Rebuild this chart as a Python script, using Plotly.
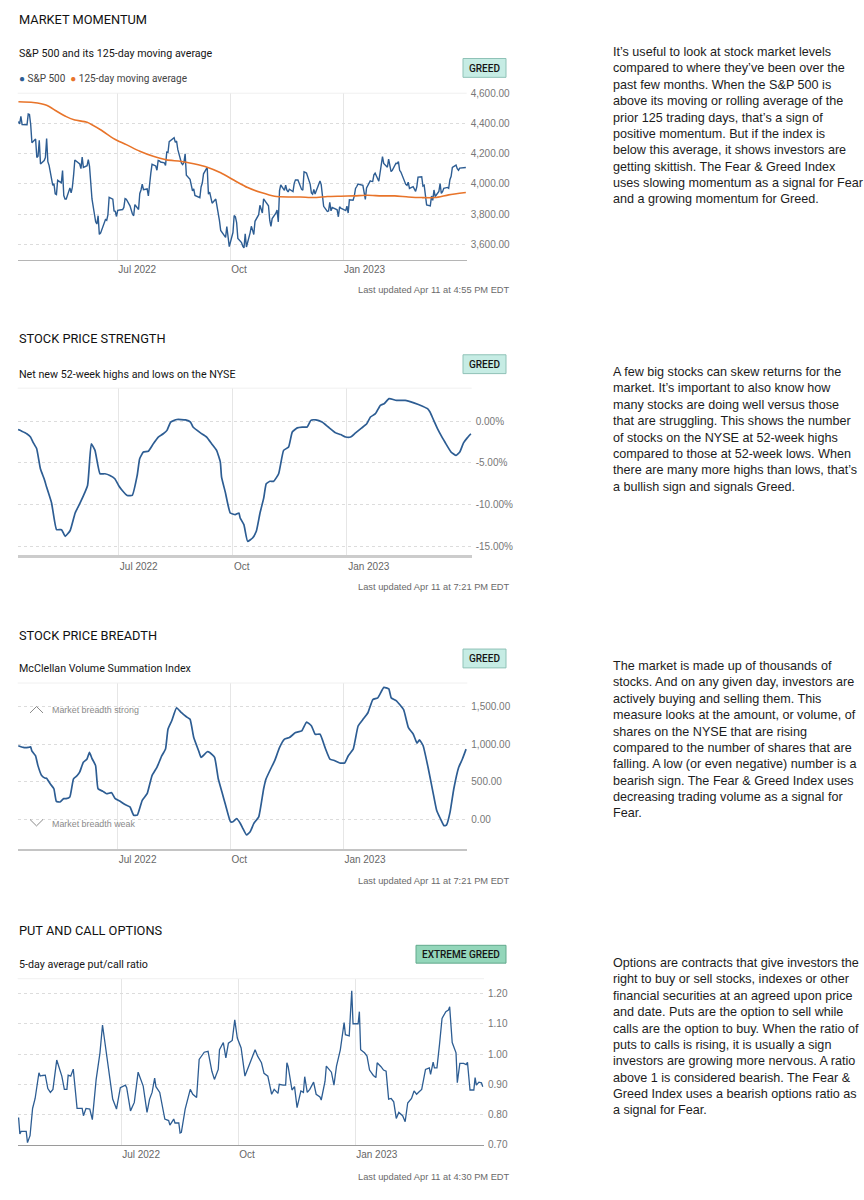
import pandas as pd
import plotly.graph_objects as go

W, H = 864, 1200
BASE = pd.Timestamp("2022-07-01")

# ---------------- DATA ----------------
market_holidays = ["2022-04-15", "2022-05-30", "2022-06-20", "2022-07-04", "2022-09-05",
                   "2022-11-24", "2022-12-26", "2023-01-02", "2023-01-16", "2023-02-20",
                   "2023-04-07"]

sp500_close = [
    # Apr 2022
    4413, 4397, 4447, 4392, 4391, 4462, 4459, 4393, 4272, 4297, 4175, 4183, 4288, 4132,
    # May
    4155, 4175, 4300, 4147, 4123, 3991, 4001, 3935, 3930, 4024, 4008, 4088, 3923, 3901, 3901,
    3974, 3941, 3979, 4058, 4158, 4132,
    # Jun
    4101, 4177, 4109, 4121, 4161, 4116, 4018, 3901, 3750, 3735, 3790, 3667, 3675, 3765, 3760,
    3796, 3912, 3900, 3822, 3819, 3785,
    # Jul
    3825, 3831, 3845, 3903, 3899, 3855, 3819, 3801, 3790, 3863, 3831, 3937, 3960, 3999, 3962,
    3967, 3921, 4024, 4072, 4130,
    # Aug
    4119, 4091, 4155, 4152, 4145, 4140, 4122, 4210, 4208, 4280, 4297, 4305, 4275, 4284, 4228,
    4138, 4128, 4141, 4199, 4058, 4031, 3986, 3955,
    # Sep
    3967, 3924, 3909, 3980, 4006, 4067, 4110, 3933, 3946, 3901, 3873, 3900, 3856, 3790, 3758,
    3693, 3655, 3647, 3719, 3640, 3586,
    # Oct
    3679, 3791, 3783, 3745, 3640, 3612, 3589, 3577, 3670, 3583, 3677, 3720, 3695, 3666, 3753,
    3797, 3859, 3831, 3808, 3901, 3872,
    # Nov
    3856, 3760, 3720, 3771, 3807, 3828, 3749, 3956, 3993, 3957, 3992, 3959, 3947, 3965, 3950,
    4004, 4027, 4026, 3964, 3958, 4080,
    # Dec
    4076, 4072, 3999, 3941, 3933, 3963, 3934, 3991, 4019, 3996, 3896, 3852, 3818, 3821, 3879,
    3822, 3845, 3829, 3783, 3849, 3840,
    # Jan 2023
    3824, 3853, 3808, 3895, 3893, 3919, 3970, 3983, 3999, 3991, 3928, 3898, 3973, 4020, 4017,
    4016, 4060, 4071, 4018, 4077,
    # Feb
    4119, 4180, 4136, 4111, 4164, 4118, 4082, 4090, 4137, 4136, 4148, 4090, 4079, 3997, 3991,
    4012, 3970, 3982, 3970,
    # Mar
    3951, 3981, 4045, 4048, 3986, 3992, 3918, 3862, 3855, 3920, 3892, 3960, 3917, 3951, 4003,
    3937, 3949, 3971, 3977, 3971, 4028, 4051, 4109,
    # Apr
    4125, 4101, 4091, 4105, 4110, 4109,
]

# 125-day moving average (days relative to 2022-07-01)
ma_days = [-81, -69, -58, -50, -42, -35, -25, -14, -4, 0, 7, 18, 29, 40, 51, 62, 73, 84, 95, 106,
           117, 128, 139, 149, 160, 171, 182, 193, 204, 215, 226, 237, 248, 259, 270, 284]
ma_values = [4543, 4539, 4521, 4482, 4445, 4423, 4408, 4358, 4303, 4286, 4260, 4216, 4183, 4159,
             4150, 4133, 4111, 4074, 4024, 3976, 3943, 3919, 3914, 3914, 3910, 3917, 3919, 3921,
             3925, 3921, 3921, 3914, 3910, 3910, 3928, 3943]

# Net new 52-week highs and lows (%)
strength_days = [-81, -78, -74, -71, -69, -66, -63, -60, -58, -54, -50, -46, -43, -39, -35, -31,
                 -25, -22, -19, -15, -11, -7, -3, 0, 3, 7, 11, 15, 17, 20, 24, 28, 32, 36, 39, 42,
                 47, 54, 58, 60, 66, 71, 75, 79, 82, 83, 86, 90, 94, 97, 98, 101, 104, 108, 111,
                 114, 117, 119, 122, 125, 129, 133, 137, 140, 144, 148, 152, 155, 159, 164, 169,
                 175, 179, 183, 187, 191, 196, 200, 203, 207, 211, 214, 218, 224, 231, 238, 245,
                 249, 251, 254, 257, 261, 263, 268, 272, 275, 278, 281, 284]
strength_values = [-1.0, -1.2, -1.5, -1.9, -2.5, -3.3, -5.7, -6.9, -7.9, -9.8, -13.0, -13.0, -13.8,
                   -13.1, -11.0, -9.8, -7.7, -2.7, -3.5, -6.3, -6.3, -6.5, -6.9, -7.7, -8.3, -8.9,
                   -8.9, -6.5, -4.5, -3.7, -3.6, -2.7, -1.9, -1.5, -1.1, -0.1, 0.2, 0.16, -0.1,
                   -0.7, -1.4, -1.9, -2.7, -3.5, -4.9, -6.7, -8.5, -11.0, -11.2, -11.0, -11.6,
                   -12.4, -14.4, -14.0, -13.2, -11.0, -9.2, -7.5, -7.2, -7.2, -6.3, -3.5, -3.1,
                   -1.3, -0.8, -0.7, -0.7, 0.1, 0.16, -0.1, -0.7, -1.4, -1.6, -1.9, -1.9, -1.4,
                   -0.8, -0.3, 0.5, 0.9, 1.9, 2.1, 2.7, 2.5, 2.5, 2.2, 1.8, 1.5, 1.1, 0.1, -0.9,
                   -2.0, -2.5, -3.7, -4.1, -3.7, -2.6, -2.0, -1.5]

# McClellan Volume Summation Index
breadth_days = [-81, -77, -73, -71, -70, -67, -65, -62, -59, -58, -55, -52, -50, -47, -44, -42,
                -39, -36, -33, -31, -28, -25, -23, -21, -18, -16, -12, -9, -5, -2, 2, 6, 10, 13,
                16, 20, 24, 28, 32, 36, 39, 41, 44, 48, 52, 56, 59, 62, 66, 68, 73, 75, 79, 82,
                85, 88, 92, 94, 97, 100, 102, 105, 108, 111, 115, 119, 121, 126, 128, 132, 136,
                140, 145, 150, 154, 158, 161, 165, 169, 173, 177, 181, 185, 188, 192, 196, 200,
                204, 208, 212, 217, 221, 223, 227, 233, 237, 241, 244, 246, 249, 253, 257, 260,
                263, 266, 268, 271, 274, 278, 281, 284]
breadth_values = [977, 955, 955, 963, 911, 846, 715, 584, 549, 549, 475, 410, 244, 235, 279, 279,
                  301, 541, 584, 628, 759, 802, 889, 811, 715, 410, 375, 344, 358, 279, 244, 201,
                  170, 61, 61, 257, 344, 584, 693, 846, 933, 1195, 1304, 1478, 1413, 1360, 1326,
                  1086, 911, 824, 898, 889, 824, 541, 366, 192, -26, -26, 17, -48, -113, -200,
                  -157, -48, 39, 410, 541, 715, 780, 955, 1064, 1086, 1151, 1173, 1291, 1238,
                  1129, 1129, 955, 802, 780, 750, 750, 846, 933, 1238, 1326, 1413, 1587, 1609,
                  1748, 1727, 1609, 1574, 1456, 1216, 1129, 1011, 1055, 977, 693, 366, 126, 17,
                  -78, -70, 105, 410, 693, 802, 933]

# 5-day average put/call ratio
putcall_days = [-81, -80, -79, -75, -74, -72, -70, -68, -65, -64,
                -62, -60, -58, -56, -54, -51, -47, -45, -43, -42,
                -40, -38, -35, -31, -30, -28, -25, -23, -20, -17,
                -15, -12, -9, -7, -4, -3, -1, 3, 4, 7,
                10, 13, 14, 17, 20, 22, 24, 26, 27, 30,
                34, 37, 38, 41, 42, 45, 46, 47, 50, 54,
                56, 59, 61, 65, 68, 71, 73, 75, 76, 77,
                80, 82, 84, 87, 89, 91, 94, 97, 99, 102,
                105, 107, 110, 112, 115, 118, 120, 123, 124, 127,
                129, 130, 131, 134, 136, 138, 141, 143, 144, 146,
                148, 151, 153, 156, 157, 160, 161, 165, 167, 169,
                172, 175, 176, 179, 181, 182, 186, 187, 188, 191,
                193, 195, 198, 200, 201, 204, 206, 208, 210, 212,
                214, 216, 218, 221, 223, 225, 228, 230, 232, 234,
                236, 239, 242, 243, 245, 246, 248, 250, 252, 255,
                257, 258, 260, 263, 264, 266, 269, 271, 272, 274,
                276, 277, 278, 279, 281, 283, 284]
putcall_values = [0.79, 0.736, 0.744, 0.744, 0.707, 0.73, 0.82, 0.853, 0.938, 0.927,
                  0.929, 0.93, 0.886, 0.873, 0.883, 0.98, 0.927, 0.883, 0.883, 0.93,
                  0.927, 0.95, 0.82, 0.82, 0.796, 0.82, 0.818, 0.783, 0.916, 1.004,
                  1.096, 1.004, 0.93, 0.851, 0.818, 0.845, 0.889, 0.897, 0.889, 0.812,
                  0.84, 0.94, 0.927, 0.894, 0.807, 0.851, 0.873, 0.92, 0.892, 0.873,
                  0.785, 0.78, 0.765, 0.785, 0.772, 0.772, 0.739, 0.741, 0.818, 0.883,
                  0.867, 0.856, 0.982, 1.006, 1.009, 0.943, 0.916, 0.938, 0.949, 1.014,
                  1.038, 0.987, 1.036, 1.045, 1.113, 1.053, 1.02, 0.927, 0.949, 0.982,
                  1.014, 0.993, 0.971, 0.936, 0.927, 0.867, 0.883, 0.87, 0.9, 0.897,
                  0.897, 0.971, 0.958, 0.881, 0.892, 0.823, 0.878, 0.873, 0.925, 0.873,
                  0.883, 0.907, 0.867, 0.858, 0.848, 0.91, 0.96, 0.94, 0.897, 0.96,
                  1.014, 1.104, 1.064, 1.06, 1.209, 1.1, 1.1, 1.14, 1.014, 1.004,
                  0.993, 0.947, 0.929, 0.922, 0.971, 0.958, 0.947, 0.943, 0.851, 0.853,
                  0.842, 0.787, 0.807, 0.796, 0.776, 0.838, 0.853, 0.878, 0.867, 0.875,
                  0.883, 0.949, 0.954, 0.933, 0.973, 0.954, 0.954, 1.031, 1.118, 1.14,
                  1.145, 1.156, 1.038, 1.004, 0.905, 0.969, 0.969, 0.965, 0.973, 0.881,
                  0.881, 0.881, 0.922, 0.897, 0.907, 0.905, 0.892]

x_tick_dates = ["2022-07-01", "2022-10-01", "2023-01-01"]
x_tick_labels = ["Jul 2022", "Oct", "Jan 2023"]

sp_ticks = [3600, 3800, 4000, 4200, 4400, 4600]
strength_ticks = [-15, -10, -5, 0]
strength_tick_labels = ["-15.00%", "-10.00%", "-5.00%", "0.00%"]
breadth_ticks = [0, 500, 1000, 1500]
putcall_ticks = [0.7, 0.8, 0.9, 1.0, 1.1, 1.2]

# ---------------- HELPERS ----------------
def days_to_dates(days):
    return [BASE + pd.Timedelta(days=d) for d in days]

def PX(p):
    return p / W

def PY(p):
    return 1 - p / H

sp_dates = pd.bdate_range("2022-04-11", "2023-04-11", freq="C", holidays=market_holidays)
assert len(sp_dates) == len(sp500_close), (len(sp_dates), len(sp500_close))

BLUE = "#2d5d93"
ORANGE = "#e8742a"
HEAD_FONT = "Roboto, Liberation Sans, Arial, sans-serif"
BODY_FONT = "Liberation Sans, Arial, sans-serif"

fig = go.Figure()

fig.add_trace(go.Scatter(x=sp_dates, y=sp500_close, mode="lines", line=dict(color=BLUE, width=1.4),
                         name="S&P 500", xaxis="x", yaxis="y"))
fig.add_trace(go.Scatter(x=days_to_dates(ma_days), y=ma_values, mode="lines",
                         line=dict(color=ORANGE, width=1.6, shape="spline", smoothing=0.6),
                         name="125-day moving average", xaxis="x", yaxis="y"))
fig.add_trace(go.Scatter(x=days_to_dates(strength_days), y=strength_values, mode="lines",
                         line=dict(color=BLUE, width=1.7, shape="spline", smoothing=0.4),
                         name="Net new highs/lows", xaxis="x2", yaxis="y2"))
fig.add_trace(go.Scatter(x=days_to_dates(breadth_days), y=breadth_values, mode="lines",
                         line=dict(color=BLUE, width=1.7, shape="spline", smoothing=0.4),
                         name="McClellan", xaxis="x3", yaxis="y3"))
fig.add_trace(go.Scatter(x=days_to_dates(putcall_days), y=putcall_values, mode="lines",
                         line=dict(color=BLUE, width=1.3),
                         name="Put/call", xaxis="x4", yaxis="y4"))

panels = [
    dict(x0=17.7, x1=466.7, y0=88, y1=256.7, xr=(-81.6, 284.7), yr=(3495, 4600),
         yt=dict(tickvals=sp_ticks, tickformat=",.2f"), line=dict(c="#b5b5b5", w=1.3)),
    dict(x0=17.7, x1=471.7, y0=385.7, y1=554, xr=(-81.3, 284.6), yr=(-16.03, 3.96),
         yt=dict(tickvals=strength_ticks, ticktext=strength_tick_labels), line=dict(c="#cccccc", w=2.5)),
    dict(x0=17.7, x1=467.3, y0=683.3, y1=851.3, xr=(-81.5, 285.0), yr=(-392, 1805),
         yt=dict(tickvals=breadth_ticks, tickformat=",.2f"), line=dict(c="#c4c4c4", w=2)),
    dict(x0=17.7, x1=484, y0=981.7, y1=1149.3, xr=(-81.7, 285.0), yr=(0.70, 1.249),
         yt=dict(tickvals=putcall_ticks, tickformat=".2f"), line=dict(c="#9a9a9a", w=1.2)),
]

layout = dict(
    width=W, height=H, margin=dict(l=0, r=0, t=0, b=0),
    paper_bgcolor="white", plot_bgcolor="white", showlegend=False,
    font=dict(family=BODY_FONT, color="#333"),
)
shapes = []
for i, p in enumerate(panels, start=1):
    sx = "" if i == 1 else str(i)
    xr = [BASE + pd.Timedelta(days=p["xr"][0]), BASE + pd.Timedelta(days=p["xr"][1])]
    layout["xaxis" + sx] = dict(
        domain=[PX(p["x0"]), PX(p["x1"])], anchor="y" + sx, type="date", range=xr,
        tickvals=x_tick_dates, ticktext=x_tick_labels, ticklabelposition="outside right",
        showgrid=True, gridcolor="#e6e6e6", gridwidth=1, zeroline=False,
        showline=True, linecolor=p["line"]["c"], linewidth=p["line"]["w"],
        ticks="", tickfont=dict(size=10, color="#666", family=BODY_FONT), fixedrange=True,
    )
    yt = p["yt"]
    layout["yaxis" + sx] = dict(
        domain=[PY(p["y1"]), PY(p["y0"])], anchor="x" + sx, side="right", range=list(p["yr"]),
        showgrid=True, gridcolor="#dcdcdc", griddash="dot", gridwidth=1, zeroline=False,
        showline=False, ticks="", tickfont=dict(size=10, color="#777", family=BODY_FONT),
        ticklabelstandoff=3, fixedrange=True, **yt,
    )
    # faint top border of the plotting area
    shapes.append(dict(type="line", xref=f"x{sx} domain", yref=f"y{sx} domain", x0=0, x1=1, y0=1, y1=1,
                       line=dict(color="#f0f0f0", width=1)))

annotations = []

def text(x, y, s, size, color="#222", family=BODY_FONT, xanchor="left", yanchor="middle", align="left",
         weight="normal"):
    annotations.append(dict(x=PX(x), y=PY(y), xref="paper", yref="paper", text=s, showarrow=False,
                            xanchor=xanchor, yanchor=yanchor, align=align, borderpad=0,
                            font=dict(size=size, color=color, family=family, weight=weight)))

def badge(x0, x1, y0, y1, label, fill, border):
    shapes.append(dict(type="rect", xref="paper", yref="paper", x0=PX(x0), x1=PX(x1), y0=PY(y1), y1=PY(y0),
                       fillcolor=fill, line=dict(color=border, width=1)))
    text((x0 + x1) / 2, (y0 + y1) / 2 + 0.5, label, 10, "#151515", HEAD_FONT, xanchor="center",
         weight=500)

sections = [
    dict(title="MARKET MOMENTUM", ty=14, sub="S&P 500 and its 125-day moving average", sy=48,
         upd="Last updated Apr 11 at 4:55 PM EDT", uy=287, badge=(463, 506, 53, 72, "GREED"),
         desc=("It’s useful to look at stock market levels<br>compared to where they’ve been over the<br>"
               "past few months. When the S&P 500 is<br>above its moving or rolling average of the<br>"
               "prior 125 trading days, that’s a sign of<br>positive momentum. But if the index is<br>"
               "below this average, it shows investors are<br>getting skittish. The Fear & Greed Index<br>"
               "uses slowing momentum as a signal for Fear<br>and a growing momentum for Greed."), dy=38.5),
    dict(title="STOCK PRICE STRENGTH", ty=336, sub="Net new 52-week highs and lows on the NYSE", sy=372,
         upd="Last updated Apr 11 at 7:21 PM EDT", uy=586, badge=(463, 506, 352, 371, "GREED"),
         desc=("A few big stocks can skew returns for the<br>market. It’s important to also know how<br>"
               "many stocks are doing well versus those<br>that are struggling. This shows the number<br>"
               "of stocks on the NYSE at 52-week highs<br>compared to those at 52-week lows. When<br>"
               "there are many more highs than lows, that’s<br>a bullish sign and signals Greed."), dy=361.5),
    dict(title="STOCK PRICE BREADTH", ty=635, sub="McClellan Volume Summation Index", sy=669,
         upd="Last updated Apr 11 at 7:21 PM EDT", uy=883, badge=(463, 506, 649, 668, "GREED"),
         desc=("The market is made up of thousands of<br>stocks. And on any given day, investors are<br>"
               "actively buying and selling them. This<br>measure looks at the amount, or volume, of<br>"
               "shares on the NYSE that are rising<br>compared to the number of shares that are<br>"
               "falling. A low (or even negative) number is a<br>bearish sign. The Fear & Greed Index uses<br>"
               "decreasing trading volume as a signal for<br>Fear."), dy=658.5),
    dict(title="PUT AND CALL OPTIONS", ty=933, sub="5-day average put/call ratio", sy=967,
         upd="Last updated Apr 11 at 4:30 PM EDT", uy=1182, badge=(416, 506, 948, 966, "EXTREME GREED"),
         desc=("Options are contracts that give investors the<br>right to buy or sell stocks, indexes or other<br>"
               "financial securities at an agreed upon price<br>and date. Puts are the option to sell while<br>"
               "calls are the option to buy. When the ratio of<br>puts to calls is rising, it is usually a sign<br>"
               "investors are growing more nervous. A ratio<br>above 1 is considered bearish. The Fear &<br>"
               "Greed Index uses a bearish options ratio as<br>a signal for Fear."), dy=957.5),
]

for i, s in enumerate(sections):
    text(18, s["ty"], s["title"], 12.8, "#111", HEAD_FONT, weight=400)
    text(18, s["sy"], s["sub"], 10.7, "#151515", HEAD_FONT, weight=400)
    text(511, s["uy"], s["upd"], 9.3, "#6a6a6a", BODY_FONT, xanchor="right")
    b = s["badge"]
    if i == 3:
        badge(b[0], b[1], b[2], b[3], b[4], "#93d6ba", "#62a98c")
    else:
        badge(b[0], b[1], b[2], b[3], b[4], "#c6ece4", "#8fc2b7")
    text(612, s["dy"], s["desc"], 12.6, "#1c1c1c", BODY_FONT, yanchor="top")

# legend of first chart
text(18, 73, f"<span style='color:{BLUE}'>●</span> S&P 500  <span style='color:{ORANGE}'>●</span> 125-day moving average",
     10, "#444", HEAD_FONT)

# breadth guide labels with chevrons
text(50.5, 710.5, "Market breadth strong", 8.9, "#8a8a8a", BODY_FONT)
text(50.5, 826, "Market breadth weak", 8.9, "#8a8a8a", BODY_FONT)
shapes.append(dict(type="path", xref="paper", yref="paper",
                   path=f"M {PX(30)},{PY(713.5)} L {PX(36.5)},{PY(707)} L {PX(43)},{PY(713.5)}",
                   line=dict(color="#8a8a8a", width=1)))
shapes.append(dict(type="path", xref="paper", yref="paper",
                   path=f"M {PX(30)},{PY(821)} L {PX(36.5)},{PY(827.5)} L {PX(43)},{PY(821)}",
                   line=dict(color="#8a8a8a", width=1)))

layout["shapes"] = shapes
layout["annotations"] = annotations
fig.update_layout(**layout)
fig.write_html("out.html", post_script="document.body.style.margin='0';document.body.style.padding='0';")
